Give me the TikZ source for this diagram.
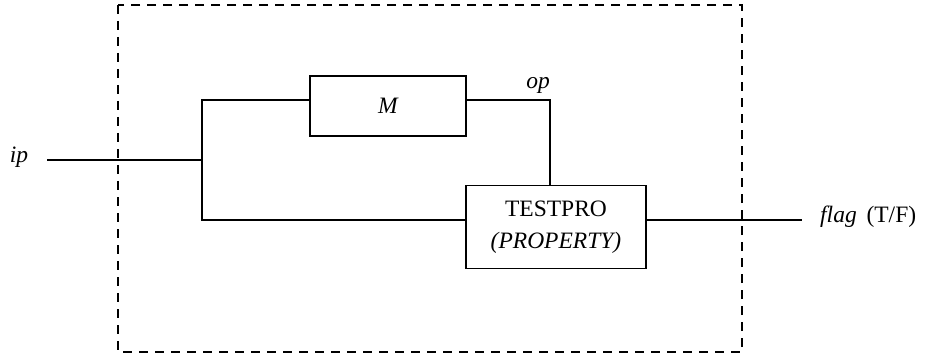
\documentclass[tikz,border=0pt]{standalone}
\usepackage{fontspec}
\setmainfont{Liberation Serif}
\begin{document}
\begin{tikzpicture}[x=1pt,y=-1pt,
  wire/.style={line width=1.1pt},
  block/.style={draw,line width=1.1pt,inner sep=0pt,align=center},
  txt/.style={font=\fontsize{23.5}{32}\selectfont},
  ital/.style={font=\fontsize{23.5}{32}\selectfont\itshape},
  lbl/.style={inner sep=0pt}]
\useasboundingbox (0,0) rectangle (928,358);
% system boundary
\draw[line width=1.1pt,dash pattern=on 9pt off 7pt] (118,5) rectangle (742,352);
% blocks
\node[block,minimum width=156pt,minimum height=60pt,ital] (M) at (388,106) {M};
\node[block,minimum width=180pt,minimum height=83pt,txt] (T) at (556,227) {TESTPRO\\\textit{(PROPERTY)}};
% junction points
\coordinate (ipstart) at (47,160);
\coordinate (split) at (202,160);
\coordinate (opcorner) at (550,100);
\coordinate (flagend) at (802,220);
% labels
\node[lbl,ital] (ip) at (19,157) {ip};
\node[lbl,ital] (op) at (538,85) {op};
\node[lbl,txt,anchor=west] (flag) at (820,217) {\textit{flag}\, (T/F)};
% connectors
\draw[wire] (ipstart) -- (split);
\draw[wire] (split) |- (M.west |- opcorner);
\draw[wire] (split) |- (T.west |- flagend);
\draw[wire] (M.east |- opcorner) -- (opcorner) -- (opcorner |- T.north);
\draw[wire] (T.east |- flagend) -- (flagend);
\end{tikzpicture}
\end{document}
